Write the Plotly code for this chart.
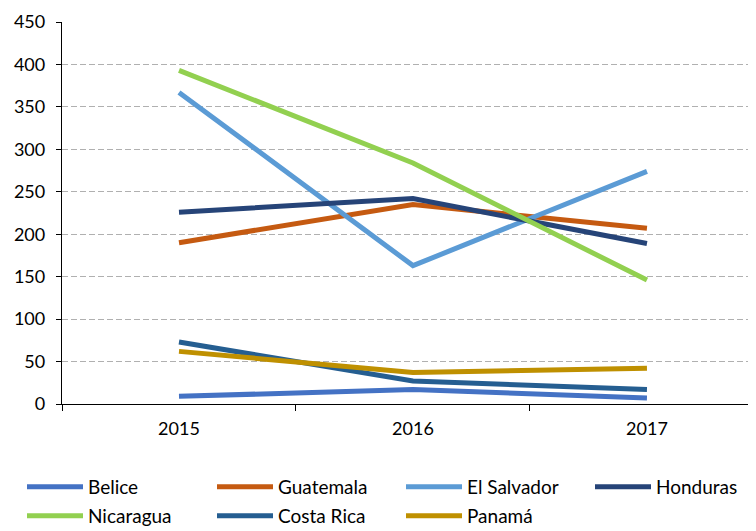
import plotly.graph_objects as go

years = ["2015", "2016", "2017"]
belice = [9, 17, 7]
guatemala = [190, 235, 207]
el_salvador = [367, 163, 274]
honduras = [226, 242, 189]
nicaragua = [393, 284, 146]
costa_rica = [73, 27, 17]
panama = [62, 37, 42]

series = [
    ("Belice", belice, "#4472C4"),
    ("Guatemala", guatemala, "#C55A11"),
    ("El Salvador", el_salvador, "#5B9BD5"),
    ("Honduras", honduras, "#264478"),
    ("Nicaragua", nicaragua, "#92D050"),
    ("Costa Rica", costa_rica, "#255E91"),
    ("Panamá", panama, "#BF9000"),
]

# figure coordinates (page is offset by the 8px body margin)
L, T, B, W, H = 54, 14, 396, 748, 523
pw, ph = W - L, B - T
col_px = [14, 204, 393, 582]
row_px = [479, 508]

fig = go.Figure()
layout_legends = {}
for i, (name, vals, col) in enumerate(series):
    key = "legend" if i == 0 else f"legend{i+1}"
    fig.add_trace(go.Scatter(x=years, y=vals, name=name, mode="lines",
                             line=dict(color=col, width=5), legend=key))
    cx = col_px[i % 4]
    ry = row_px[i // 4]
    layout_legends[key] = dict(
        x=(cx - L) / pw, xanchor="left",
        y=(B - ry) / ph, yanchor="middle",
        orientation="h", itemwidth=56,
        font=dict(size=19, family="Lato, sans-serif", color="black"),
        bgcolor="rgba(0,0,0,0)",
    )

fig.update_layout(
    width=W, height=H,
    margin=dict(l=L, r=0, t=T, b=H - B, autoexpand=False),
    paper_bgcolor="white", plot_bgcolor="white",
    font=dict(family="Lato, Open Sans, sans-serif", size=18, color="black"),
    showlegend=True,
    **layout_legends,
)
fig.update_xaxes(type="category", range=[-0.5, 2.466], showline=True, linecolor="black",
                 linewidth=1.3, ticks="outside", tickson="boundaries", ticklen=6,
                 tickcolor="black", showgrid=False, zeroline=False,
                 tickfont=dict(size=18), ticklabelstandoff=8, automargin=False)
fig.update_yaxes(range=[0, 450], dtick=50, showline=True, linecolor="black", linewidth=1.3,
                 ticks="outside", ticklen=5, tickcolor="black",
                 showgrid=True, gridcolor="#B0B0B0", griddash="6px,3px", gridwidth=1,
                 zeroline=False, tickfont=dict(size=18), ticklabelstandoff=7,
                 automargin=False)

fig.write_html("out.html")
